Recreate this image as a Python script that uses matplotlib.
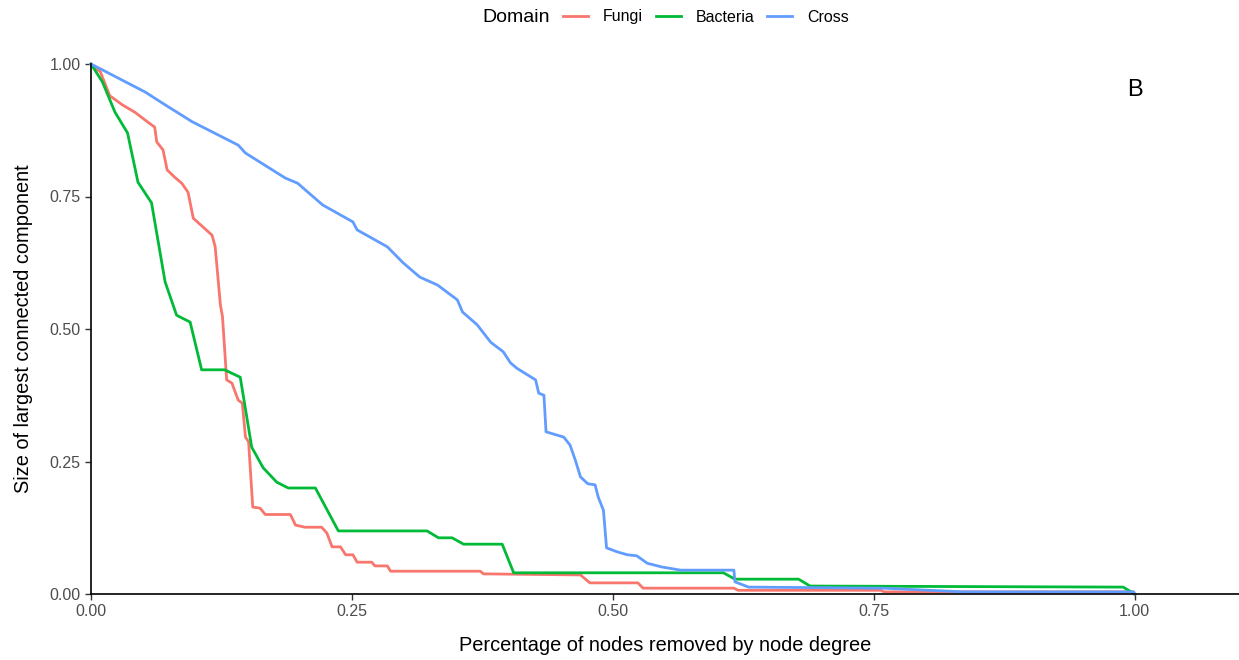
import matplotlib
matplotlib.use('Agg')
import matplotlib.pyplot as plt

# Percentage of nodes removed (x) vs. size of largest connected component (y)
fungi_x = [0.0, 0.009, 0.018, 0.030, 0.042, 0.054, 0.061, 0.063, 0.069, 0.073, 0.081, 0.087,
           0.093, 0.098, 0.116, 0.119, 0.124, 0.126, 0.130, 0.135, 0.141, 0.145, 0.148, 0.151,
           0.155, 0.162, 0.167, 0.191, 0.196, 0.205, 0.221, 0.226, 0.231, 0.239, 0.244, 0.251,
           0.255, 0.269, 0.272, 0.284, 0.287, 0.373, 0.376, 0.469, 0.478, 0.524, 0.529, 0.616,
           0.620, 0.757, 0.760, 0.999, 1.0]
fungi_y = [1.0, 0.985, 0.940, 0.923, 0.909, 0.891, 0.881, 0.853, 0.838, 0.800, 0.785, 0.775,
           0.758, 0.709, 0.677, 0.655, 0.545, 0.523, 0.404, 0.398, 0.366, 0.360, 0.296, 0.287,
           0.164, 0.162, 0.150, 0.150, 0.130, 0.126, 0.126, 0.115, 0.089, 0.089, 0.074, 0.074,
           0.060, 0.060, 0.053, 0.053, 0.043, 0.043, 0.038, 0.036, 0.021, 0.021, 0.011, 0.011,
           0.007, 0.007, 0.004, 0.004, 0.0]

bacteria_x = [0.0, 0.011, 0.023, 0.035, 0.045, 0.058, 0.071, 0.082, 0.095, 0.106, 0.128, 0.143,
              0.154, 0.165, 0.178, 0.189, 0.215, 0.237, 0.322, 0.333, 0.346, 0.357, 0.394, 0.405,
              0.606, 0.617, 0.678, 0.689, 0.989, 1.0]
bacteria_y = [1.0, 0.966, 0.909, 0.870, 0.777, 0.738, 0.589, 0.526, 0.513, 0.423, 0.423, 0.409,
              0.277, 0.238, 0.211, 0.200, 0.200, 0.119, 0.119, 0.106, 0.106, 0.094, 0.094, 0.040,
              0.040, 0.028, 0.028, 0.015, 0.013, 0.0]

cross_x = [0.0, 0.052, 0.071, 0.097, 0.141, 0.148, 0.186, 0.198, 0.222, 0.251, 0.255, 0.284,
           0.299, 0.315, 0.332, 0.351, 0.356, 0.370, 0.383, 0.395, 0.402, 0.408, 0.426, 0.429,
           0.434, 0.436, 0.453, 0.459, 0.464, 0.469, 0.476, 0.483, 0.486, 0.491, 0.494, 0.505,
           0.514, 0.523, 0.533, 0.547, 0.565, 0.616, 0.617, 0.630, 0.759, 0.836, 0.999, 1.0]
cross_y = [1.0, 0.947, 0.923, 0.891, 0.847, 0.832, 0.785, 0.775, 0.734, 0.702, 0.687, 0.655,
           0.625, 0.598, 0.583, 0.555, 0.532, 0.508, 0.475, 0.457, 0.436, 0.426, 0.404, 0.379,
           0.375, 0.306, 0.296, 0.281, 0.253, 0.221, 0.208, 0.206, 0.183, 0.158, 0.087, 0.079,
           0.074, 0.072, 0.058, 0.051, 0.045, 0.045, 0.023, 0.013, 0.011, 0.004, 0.004, 0.0]

x_ticks = [0.0, 0.25, 0.5, 0.75, 1.0]
y_ticks = [0.0, 0.25, 0.5, 0.75, 1.0]
tick_labels = ['0.00', '0.25', '0.50', '0.75', '1.00']


def main():
    plt.rcParams['font.family'] = ['Liberation Sans', 'DejaVu Sans']

    fig = plt.figure(figsize=(12.39, 6.6), dpi=100)
    # panel: x=0 at 91px, y=0 at 594px, y=1 at 64px
    ax = fig.add_axes([91 / 1239, 1 - 594 / 660, 1 - 91 / 1239, (594 - 64) / 660])

    ax.plot(fungi_x, fungi_y, color='#F8766D', lw=2, label='Fungi', clip_on=False)
    ax.plot(bacteria_x, bacteria_y, color='#00BA38', lw=2, label='Bacteria', clip_on=False)
    ax.plot(cross_x, cross_y, color='#619CFF', lw=2, label='Cross', clip_on=False)

    ax.set_xlim(0, 1.1)
    ax.set_ylim(0, 1.0)
    ax.set_xticks(x_ticks, tick_labels)
    ax.set_yticks(y_ticks, tick_labels)
    ax.tick_params(colors='#333333', labelcolor='#4d4d4d', labelsize=11.5, length=4, width=1)
    for side in ['top', 'right']:
        ax.spines[side].set_visible(False)
    for side in ['left', 'bottom']:
        ax.spines[side].set_linewidth(1.2)

    ax.set_xlabel('Percentage of nodes removed by node degree', fontsize=14.4, labelpad=12)
    ax.set_ylabel('Size of largest connected component', fontsize=14.4, labelpad=12)
    ax.text(1.0, 0.95, 'B', fontsize=17, ha='center', va='center')

    fig.text(482 / 1239, 1 - 17 / 660, 'Domain', fontsize=14, ha='left', va='center')
    fig.legend(loc='center left', bbox_to_anchor=(563 / 1239, 1 - 17 / 660), ncol=3,
               frameon=False, fontsize=11.5, handlelength=1.56, columnspacing=0.8,
               handletextpad=0.94, borderpad=0, borderaxespad=0)

    fig.savefig('out.png', dpi=100)


if __name__ == '__main__':
    main()
